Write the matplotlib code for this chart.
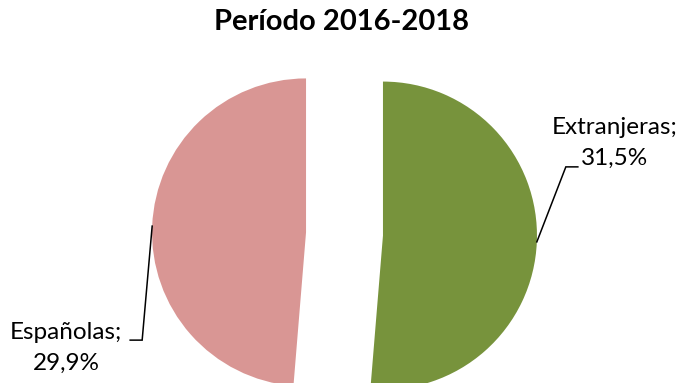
import matplotlib
matplotlib.use("Agg")
import matplotlib.pyplot as plt
import numpy as np

title = "Período 2016-2018"
categories = ["Extranjeras", "Españolas"]
values = [31.5, 29.9]
colors = ["#77933C", "#D99694"]

W, H = 681, 383
fig = plt.figure(figsize=(W / 100, H / 100), dpi=100)
ax = fig.add_axes([0, 0, 1, 1])

R_PX = 154.0            # pie radius in pixels
CX, CY = 344.5, 234.0   # pie centre in pixels (from top-left)
explode = [0.25, 0.25]

wedges, _ = ax.pie(values, colors=colors, startangle=90, counterclock=False,
                   explode=explode, radius=1.0,
                   wedgeprops=dict(linewidth=0))

# one data unit == R_PX pixels on both axes
ax.set_xlim(-CX / R_PX, (W - CX) / R_PX)
ax.set_ylim(-(H - CY) / R_PX, CY / R_PX)
ax.set_aspect("auto")
ax.axis("off")

font = "Lato"

def fmt(v):
    return f"{v:.1f}".replace(".", ",") + "%"

# leader geometry (pixel offsets from anchor): elbow, end of horizontal tick, text centre
leaders = [
    dict(elbow=(29, -75), end=(41, -75), text=(78, -99)),
    dict(elbow=(-10, 114), end=(-22, 114), text=(-86, 122)),
]

for w, cat, v, ld in zip(wedges, categories, values, leaders):
    th = np.deg2rad((w.theta1 + w.theta2) / 2)
    cx, cy = w.center
    ax_, ay_ = cx + w.r * np.cos(th), cy + w.r * np.sin(th)
    ex, ey = ax_ + ld["elbow"][0] / R_PX, ay_ - ld["elbow"][1] / R_PX
    tx, ty = ax_ + ld["end"][0] / R_PX, ay_ - ld["end"][1] / R_PX
    ax.plot([ax_, ex, tx], [ay_, ey, ty], color="black", lw=1.1,
            solid_joinstyle="miter")
    ax.text(ax_ + ld["text"][0] / R_PX, ay_ - ld["text"][1] / R_PX,
            f"{cat};\n{fmt(v)}", ha="center", va="center",
            fontsize=17.5, family=font, linespacing=1.55, color="#000000")

fig.text(342 / W, 1 - 22 / H, title, ha="center", va="center",
         fontsize=21, fontweight="bold", family=font)

fig.savefig("out.png", dpi=100)
